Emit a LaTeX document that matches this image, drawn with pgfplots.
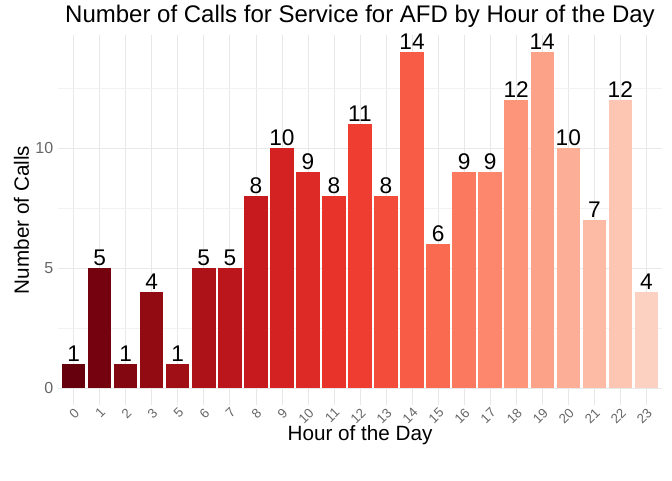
\documentclass[border=0pt]{standalone}
\usepackage{pgfplots}
\pgfplotsset{compat=1.18}
\usetikzlibrary{calc}
\usepackage{fontspec}
\setmainfont{Liberation Sans}
\definecolor{c0}{HTML}{67000D}\definecolor{c1}{HTML}{75030F}\definecolor{c2}{HTML}{830711}
\definecolor{c3}{HTML}{920B13}\definecolor{c4}{HTML}{A00E16}\definecolor{c5}{HTML}{AD1218}
\definecolor{c6}{HTML}{BA161B}\definecolor{c7}{HTML}{C71A1E}\definecolor{c8}{HTML}{D42222}
\definecolor{c9}{HTML}{DE2A26}\definecolor{c10}{HTML}{E7332A}\definecolor{c11}{HTML}{EF3E31}
\definecolor{c12}{HTML}{F44C3B}\definecolor{c13}{HTML}{F85B46}\definecolor{c14}{HTML}{FA6A51}
\definecolor{c15}{HTML}{FB795E}\definecolor{c16}{HTML}{FC876C}\definecolor{c17}{HTML}{FC957A}
\definecolor{c18}{HTML}{FCA288}\definecolor{c19}{HTML}{FCAE96}\definecolor{c20}{HTML}{FDBAA5}
\definecolor{c21}{HTML}{FDC6B3}\definecolor{c22}{HTML}{FDD1C2}
\begin{document}
\begin{tikzpicture}
\begin{axis}[name=ax,
  scale only axis, width=453pt, height=277.5pt,
  xmin=-0.6, xmax=22.6, ymin=-0.7, ymax=14.7,
  axis line style={draw=none}, tick style={draw=none},
  xtick={0,...,22},
  xticklabels={0,1,2,3,5,6,7,8,9,10,11,12,13,14,15,16,17,18,19,20,21,22,23},
  x tick label style={rotate=45, anchor=north east, font=\fontsize{10}{12}\selectfont, text=gray!80!black, inner sep=1pt},
  ytick={0,5,10}, minor ytick={2.5,7.5,12.5},
  y tick label style={font=\fontsize{12}{14}\selectfont, text=gray!80!black},
  /pgf/number format/assume math mode=true,
  grid=both, major grid style={gray!18, line width=0.5pt}, minor grid style={gray!10, line width=0.4pt},
  xlabel={Hour of the Day}, ylabel={Number of Calls},
  label style={font=\fontsize{15.5}{18}\selectfont},
  xlabel style={yshift=4pt}, ylabel style={yshift=-2pt},
  title={Number of Calls for Service for AFD by Hour of the Day},
  title style={font=\fontsize{18}{21}\selectfont, yshift=-4pt},
  clip=true,
  every axis plot/.append style={ybar, bar shift=0pt, bar width=0.9, draw=none,
    nodes near coords, nodes near coords style={font=\fontsize{17}{19}\selectfont, text=black, inner sep=1.5pt}},
]
\addplot[fill=c0] coordinates {(0,1)};
\addplot[fill=c1] coordinates {(1,5)};
\addplot[fill=c2] coordinates {(2,1)};
\addplot[fill=c3] coordinates {(3,4)};
\addplot[fill=c4] coordinates {(4,1)};
\addplot[fill=c5] coordinates {(5,5)};
\addplot[fill=c6] coordinates {(6,5)};
\addplot[fill=c7] coordinates {(7,8)};
\addplot[fill=c8] coordinates {(8,10)};
\addplot[fill=c9] coordinates {(9,9)};
\addplot[fill=c10] coordinates {(10,8)};
\addplot[fill=c11] coordinates {(11,11)};
\addplot[fill=c12] coordinates {(12,8)};
\addplot[fill=c13] coordinates {(13,14)};
\addplot[fill=c14] coordinates {(14,6)};
\addplot[fill=c15] coordinates {(15,9)};
\addplot[fill=c16] coordinates {(16,9)};
\addplot[fill=c17] coordinates {(17,12)};
\addplot[fill=c18] coordinates {(18,14)};
\addplot[fill=c19] coordinates {(19,10)};
\addplot[fill=c20] coordinates {(20,7)};
\addplot[fill=c21] coordinates {(21,12)};
\addplot[fill=c22] coordinates {(22,4)};
\end{axis}
\pgfresetboundingbox
\useasboundingbox ($(ax.south west)+(-43.5pt,-56.25pt)$) rectangle ($(ax.north east)+(7.5pt,26.25pt)$);
\end{tikzpicture}
\end{document}
